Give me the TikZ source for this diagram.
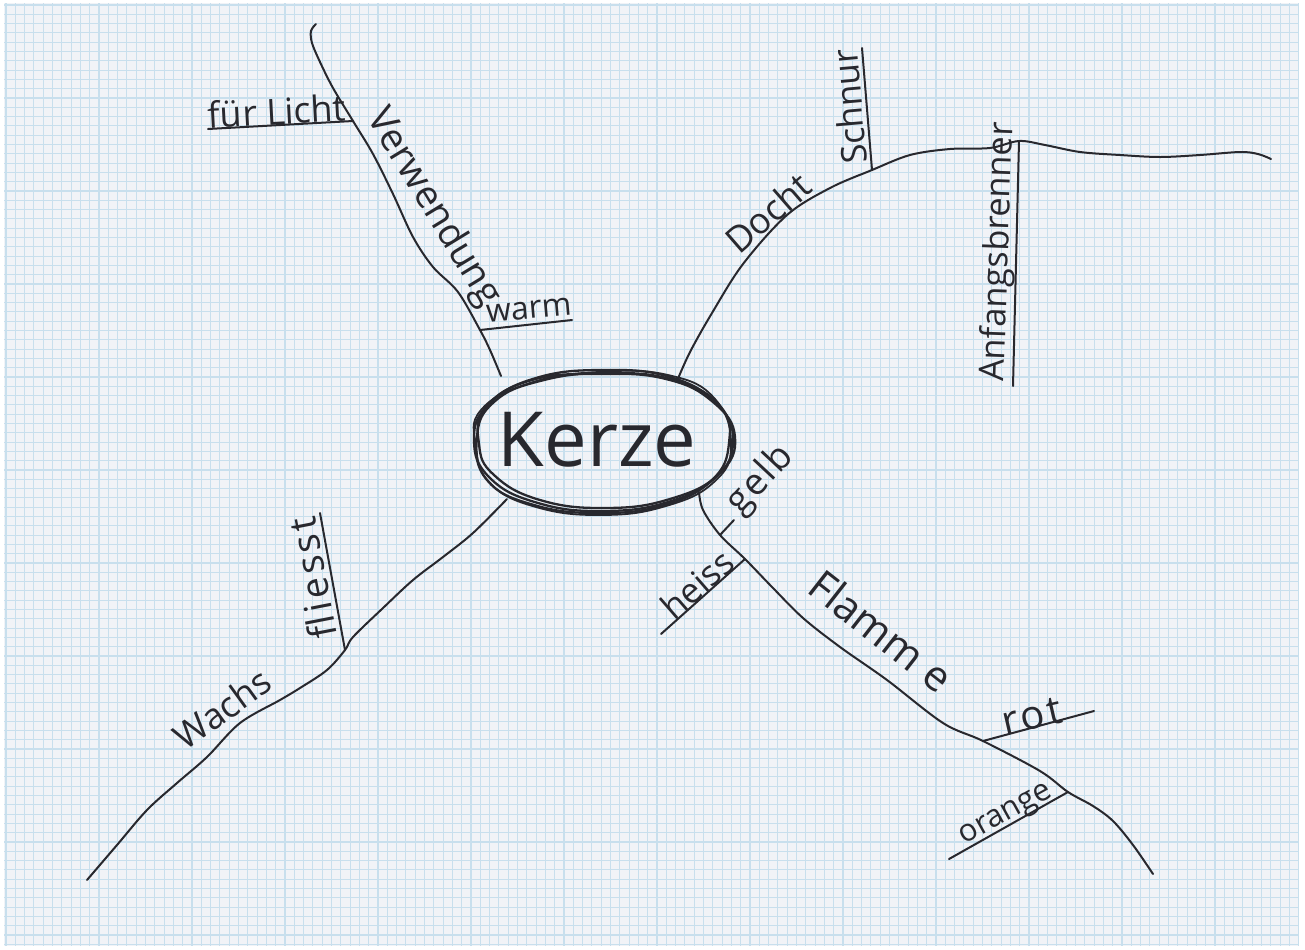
\documentclass[tikz,border=0pt]{standalone}
\usepackage{fontspec}
\newfontfamily\handfont{Open Sans}
\definecolor{paper}{RGB}{241,243,247}
\definecolor{gridc}{RGB}{200,223,237}
\definecolor{ink}{RGB}{40,40,46}
\tikzset{
  gridline/.style={draw=gridc, line width=0.55pt},
  branch/.style={draw=ink, line width=1pt, line cap=round, line join=round},
  ring/.style={draw=ink, line width=1.15pt},
  lbl/.style={font=\handfont\fontsize{#1}{#1}\selectfont, text=ink, inner sep=0pt},
  lbl/.default=18,
}
\begin{document}
\begin{tikzpicture}[x=0.5pt,y=-0.5pt]
\fill[white] (0,0) rectangle (1305,949);
\useasboundingbox (0,0) rectangle (1305,949);
\fill[paper] (4,3) rectangle (1299,946);
\begin{scope}
  \clip (4,3) rectangle (1299,946);
  \foreach \i in {0,...,140} { \draw[gridline] ({6+\i*9.3},3) -- ++(0,943); }
  \foreach \j in {0,...,102} { \draw[gridline] (4,{5+\j*9.3}) -- ++(1295,0); }
\end{scope}

% central node
\node[lbl=38] (kerze) at (597,440) {Kerze};
\draw[ring] plot[smooth cycle, tension=0.75] coordinates {(733,441) (716,477) (668,502) (603,511) (538,503) (490,478) (474,440) (489,404) (536,378) (603,370) (670,377) (717,404)};
\draw[ring] plot[smooth cycle, tension=0.75] coordinates {(729,443) (712,480) (664,505) (600,513) (534,505) (487,480) (477,437) (494,402) (540,381) (606,373) (674,380) (720,406)};
\draw[ring] plot[smooth cycle, tension=0.75] coordinates {(735,437) (719,474) (670,499) (606,508) (540,500) (494,475) (479,444) (486,407) (532,380) (600,374) (666,379) (713,402)};
\draw[ring, line width=0.9pt] plot[smooth cycle, tension=0.75] coordinates {(731,446) (714,482) (666,506) (602,515) (536,507) (490,483) (476,446) (481,410) (530,383) (598,372) (668,375) (715,399)};

% junction coordinates
\coordinate (v0) at (501,376);
\coordinate (jlicht) at (353,121);
\coordinate (jwarm) at (480,330);
\coordinate (lichtend) at (208,129);
\coordinate (warmend) at (572,320);
\coordinate (d0) at (677,381);
\coordinate (jschnur) at (872,170);
\coordinate (janf) at (1019,141);
\coordinate (schnurend) at (862,48);
\coordinate (anfend) at (1013,386);
\coordinate (w0) at (507,499);
\coordinate (jfl) at (345,650);
\coordinate (flend) at (320,513);
\coordinate (f0) at (699,492);
\coordinate (jgelb) at (720,535);
\coordinate (gelbend) at (734,520);
\coordinate (jheiss) at (745,559);
\coordinate (heissend) at (661,634);
\coordinate (jrot) at (983,741);
\coordinate (rotend) at (1094,711);
\coordinate (jor) at (1068,792);
\coordinate (orend) at (949,859);

% Verwendung
\draw[branch] plot[smooth, tension=0.55] coordinates {(316,24) (311,31) (312,43) (320,62) (333,88) (jlicht) (373,154) (393,194) (413,237) (433,267) (458,292) (jwarm) (490,350) (v0)};
\draw[branch] (lichtend) -- (jlicht);
\draw[branch] (jwarm) -- (warmend);
\node[lbl=18, rotate=3] (licht) at (277,111) {für Licht};
\node[lbl=19, rotate=-58.6] (verw) at (433,208) {Verwendung};
\node[lbl=16, rotate=5] (warm) at (529,310) {warm};

% Docht
\draw[branch] plot[smooth, tension=0.55] coordinates {(d0) (690,352) (712,313) (743,264) (787,215) (830,188) (jschnur) (910,155) (950,149) (990,148) (janf) (1045,145) (1080,152) (1120,155) (1160,157) (1200,155) (1240,152) (1258,154) (1271,159)};
\draw[branch] (jschnur) -- (schnurend);
\draw[branch] (janf) -- (anfend);
\node[lbl=18, rotate=41] (docht) at (768,213) {Docht};
\node[lbl=17.5, rotate=95] (schnur) at (849,107) {Schnur};
\node[lbl=17.2, rotate=88] (anf) at (999,252) {Anfangsbrenner};

% Wachs
\draw[branch] plot[smooth, tension=0.55] coordinates {(w0) (473,533) (443,557) (413,580) (383,608) (353,637) (jfl) (327,670) (300,688) (280,700) (240,723) (207,757) (177,783) (147,810) (117,845) (87,880)};
\draw[branch] (jfl) -- (flend);
\node[lbl=19, rotate=101] (fliesst) at (312,578) {\addfontfeatures{LetterSpace=10}fliesst};
\node[lbl=18, rotate=36] (wachs) at (222,709) {Wachs};

% Flamme
\draw[branch] plot[smooth, tension=0.55] coordinates {(f0) (703,510) (jgelb) (jheiss) (773,588) (803,618) (840,647) (887,680) (943,723) (jrot) (1040,771) (jor) (1093,806) (1113,821) (1133,845) (1153,874)};
\draw[branch] (jgelb) -- (gelbend);
\draw[branch] (jheiss) -- (heissend);
\draw[branch] (jrot) -- (rotend);
\draw[branch] (jor) -- (orend);
\node[lbl=18.5, rotate=47] (gelb) at (761,480) {\addfontfeatures{LetterSpace=6}gelb};
\node[lbl=17.5, rotate=41] (heiss) at (697,584) {heiss};
\node[lbl=21, rotate=-38] (flamme) at (881,631) {Flamm e};
\node[lbl=20, rotate=13] (rot) at (1032,716) {\addfontfeatures{LetterSpace=8}rot};
\node[lbl=15.5, rotate=29] (orange) at (1007,816) {orange};
\end{tikzpicture}
\end{document}
